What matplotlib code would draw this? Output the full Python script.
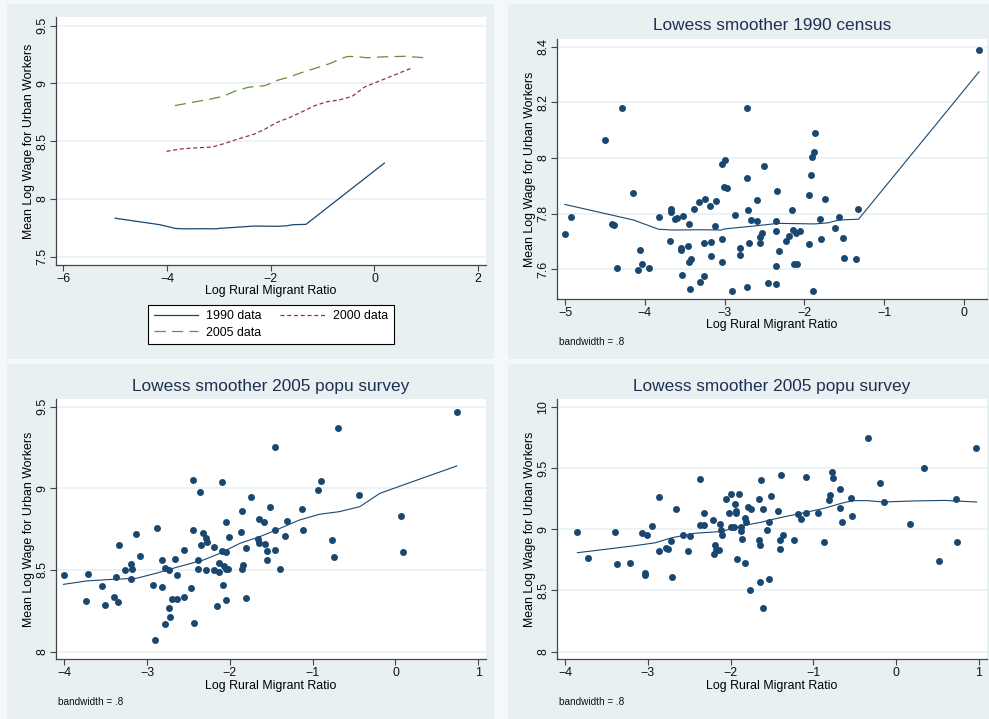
import matplotlib
matplotlib.use("Agg")
import matplotlib.pyplot as plt
from matplotlib.patches import Rectangle
from matplotlib.ticker import FuncFormatter

plt.rcParams['font.family'] = ['Liberation Sans', 'DejaVu Sans']

W, H = 989, 719

# 1990 census scatter
x90 = [-5.00, -4.93, -4.50, -4.28, -4.41, -4.38, -4.35, -4.15, -4.09, -4.06,
       -4.04, -3.95, -3.82, -3.68, -3.67, -3.67, -3.62, -3.60, -3.55, -3.54,
       -3.53, -3.52, -3.46, -3.45, -3.44, -3.42, -3.43, -3.38, -3.32, -3.31,
       -3.26, -3.26, -3.25, -3.18, -3.17, -3.17, -3.12, -3.11, -3.03, -2.99,
       -3.01, -2.97, -3.03, -3.03, -2.91, -2.87, -2.80, -2.80, -2.72, -2.72,
       -2.71, -2.69, -2.72, -2.67, -2.59, -2.59, -2.51, -2.56, -2.55, -2.53,
       -2.45, -2.36, -2.36, -2.36, -2.35, -2.34, -2.32, -2.23, -2.19, -2.16,
       -2.14, -2.13, -2.10, -2.09, -2.06, -1.94, -1.94, -1.91, -1.90, -1.88,
       -1.86, -1.89, -1.80, -1.79, -1.74, -1.62, -1.56, -1.51, -1.50, -1.35,
       -1.33, 0.19]
y90 = [7.725, 7.788, 8.063, 8.180, 7.763, 7.760, 7.605, 7.874, 7.598, 7.668,
       7.620, 7.604, 7.788, 7.702, 7.816, 7.806, 7.782, 7.784, 7.677, 7.671,
       7.580, 7.790, 7.683, 7.762, 7.625, 7.636, 7.528, 7.816, 7.843, 7.555,
       7.576, 7.695, 7.854, 7.826, 7.698, 7.648, 7.756, 7.844, 7.980, 7.994,
       7.896, 7.891, 7.710, 7.625, 7.521, 7.796, 7.678, 7.651, 8.180, 7.928,
       7.812, 7.693, 7.537, 7.777, 7.848, 7.775, 7.970, 7.695, 7.717, 7.729,
       7.552, 7.547, 7.774, 7.737, 7.613, 7.883, 7.665, 7.701, 7.721, 7.812,
       7.740, 7.619, 7.732, 7.619, 7.737, 7.690, 7.867, 7.938, 8.004, 8.020,
       8.089, 7.520, 7.781, 7.710, 7.851, 7.747, 7.787, 7.713, 7.642, 7.638,
       7.818, 8.388]

# 2000 scatter (panel titled 2005 popu survey, bottom left)
x00 = [-4.00, -3.74, -3.71, -3.55, -3.51, -3.40, -3.38, -3.35, -3.34, -3.27,
       -3.20, -3.20, -3.18, -3.13, -3.09, -2.93, -2.88, -2.90, -2.82, -2.82,
       -2.78, -2.78, -2.74, -2.74, -2.72, -2.70, -2.66, -2.64, -2.64, -2.56,
       -2.56, -2.47, -2.45, -2.45, -2.43, -2.39, -2.38, -2.36, -2.35, -2.32,
       -2.29, -2.29, -2.28, -2.19, -2.19, -2.15, -2.13, -2.13, -2.10, -2.10,
       -2.08, -2.07, -2.05, -2.05, -2.05, -2.05, -2.02, -2.01, -1.87, -1.85,
       -1.85, -1.84, -1.80, -1.80, -1.74, -1.66, -1.65, -1.65, -1.59, -1.58,
       -1.55, -1.55, -1.51, -1.46, -1.46, -1.46, -1.39, -1.33, -1.31, -1.13,
       -1.12, -0.93, -0.90, -0.77, -0.74, -0.70, -0.44, 0.07, 0.09, 0.74]
y00 = [8.471, 8.310, 8.476, 8.400, 8.288, 8.333, 8.457, 8.302, 8.653, 8.498,
       8.539, 8.445, 8.508, 8.718, 8.588, 8.410, 8.757, 8.069, 8.563, 8.394,
       8.510, 8.167, 8.498, 8.267, 8.210, 8.324, 8.569, 8.320, 8.467, 8.333,
       8.622, 8.392, 8.745, 9.051, 8.173, 8.563, 8.504, 8.980, 8.651, 8.724,
       8.698, 8.500, 8.671, 8.643, 8.498, 8.280, 8.490, 8.541, 9.037, 8.618,
       8.408, 8.527, 8.794, 8.316, 8.610, 8.504, 8.504, 8.704, 8.733, 8.859,
       8.506, 8.531, 8.635, 8.331, 8.947, 8.690, 8.812, 8.663, 8.794, 8.659,
       8.616, 8.561, 8.888, 9.251, 8.745, 8.622, 8.504, 8.706, 8.800, 8.876,
       8.745, 8.992, 9.043, 8.686, 8.578, 9.369, 8.957, 8.833, 8.612, 9.465]

# 2005 scatter
x05 = [-3.85, -3.72, -3.40, -3.37, -3.22, -3.07, -3.04, -3.04, -3.01, -2.95,
       -2.87, -2.87, -2.78, -2.76, -2.72, -2.71, -2.66, -2.57, -2.51, -2.49,
       -2.37, -2.37, -2.32, -2.32, -2.21, -2.20, -2.19, -2.18, -2.14, -2.13,
       -2.11, -2.10, -2.05, -2.02, -2.00, -1.99, -1.96, -1.95, -1.94, -1.93,
       -1.92, -1.90, -1.88, -1.87, -1.86, -1.83, -1.83, -1.81, -1.79, -1.75,
       -1.76, -1.66, -1.66, -1.65, -1.64, -1.63, -1.61, -1.61, -1.56, -1.54,
       -1.54, -1.51, -1.43, -1.40, -1.40, -1.39, -1.37, -1.24, -1.18, -1.15,
       -1.09, -1.09, -0.95, -0.87, -0.81, -0.80, -0.77, -0.76, -0.68, -0.68,
       -0.65, -0.55, -0.53, -0.34, -0.19, -0.15, 0.17, 0.33, 0.52, 0.72,
       0.74, 0.96]
y05 = [8.980, 8.762, 8.974, 8.716, 8.721, 8.966, 8.639, 8.623, 8.952, 9.029,
       9.263, 8.824, 8.849, 8.841, 8.903, 8.607, 9.165, 8.955, 8.819, 8.944,
       9.412, 9.037, 9.037, 9.135, 9.075, 8.795, 8.868, 8.830, 8.827, 9.045,
       8.996, 8.952, 9.246, 9.132, 9.015, 9.290, 9.015, 9.205, 9.135, 9.148,
       8.759, 9.290, 8.985, 9.015, 8.920, 8.727, 9.091, 9.056, 9.184, 9.165,
       8.506, 9.249, 8.914, 8.571, 8.868, 9.404, 9.162, 8.356, 8.996, 9.059,
       8.590, 9.273, 9.151, 8.909, 8.841, 9.445, 8.955, 8.909, 9.121, 9.083,
       9.132, 9.423, 9.135, 8.895, 9.235, 9.276, 9.469, 9.415, 9.325, 9.173,
       9.059, 9.257, 9.110, 9.741, 9.374, 9.224, 9.042, 9.497, 8.737, 9.246,
       8.892, 9.660]

# lowess curves
lx90 = [-5.00, -4.14, -3.83, -3.66, -3.29, -3.04, -3.00, -2.58, -2.33, -1.87, -1.70, -1.57, -1.32, 0.19]
ly90 = [7.833, 7.777, 7.744, 7.741, 7.742, 7.741, 7.745, 7.757, 7.765, 7.763, 7.767, 7.777, 7.780, 8.310]
lx00 = [-4.01, -3.73, -3.41, -3.13, -2.89, -2.64, -2.32, -2.12, -1.88, -1.64, -1.44, -1.16,
        -0.92, -0.68, -0.43, -0.19, 0.09, 0.74]
ly00 = [8.412, 8.433, 8.443, 8.449, 8.480, 8.517, 8.561, 8.602, 8.663, 8.704, 8.745, 8.806,
        8.841, 8.857, 8.888, 8.969, 9.020, 9.137]
lx05 = [-3.85, -3.52, -3.16, -2.91, -2.71, -2.43, -2.11, -1.87, -1.63, -1.43, -1.14, -0.86,
        -0.66, -0.52, -0.34, -0.16, 0.18, 0.59, 0.97]
ly05 = [8.808, 8.835, 8.865, 8.889, 8.930, 8.967, 8.981, 9.027, 9.057, 9.090, 9.131, 9.172,
        9.212, 9.233, 9.233, 9.222, 9.230, 9.235, 9.222]

NAVY = '#1A476F'
MAROON = '#90353B'
GREEN = '#6A8D3E'
PANEL = '#E8F0F2'
FS = 8.9
MS = 5.0

fig = plt.figure(figsize=(W / 100, H / 100), dpi=100, facecolor='#F4F8F9')

# panel backgrounds (pixel boxes), kept behind the axes
for (l, t, r, b) in [(7, 4, 494, 359), (508, 4, 989, 359), (7, 364, 494, 719), (508, 364, 989, 719)]:
    fig.patches.append(Rectangle((l / W, 1 - b / H), (r - l) / W, (b - t) / H,
                                 transform=fig.transFigure, facecolor=PANEL, edgecolor='none', zorder=-5))


def make_ax(l, t, r, b):
    ax = fig.add_axes([l / W, 1 - b / H, (r - l) / W, (b - t) / H])
    ax.set_zorder(2)
    ax.set_facecolor('white')
    for s in ['top', 'right']:
        ax.spines[s].set_visible(False)
    for s in ['left', 'bottom']:
        ax.spines[s].set_color('#444444')
        ax.spines[s].set_linewidth(0.9)
    ax.tick_params(length=4, width=0.8, color='#444444', labelsize=FS, pad=1.5, labelcolor='#111111')
    ax.yaxis.grid(True, color='#EAF2F3', linewidth=1.3)
    ax.set_axisbelow(True)
    fmt = FuncFormatter(lambda v, p: f"{v:g}".replace('-', '\u2212'))
    ax.xaxis.set_major_formatter(fmt)
    ax.yaxis.set_major_formatter(fmt)
    ax.set_xlabel('Log Rural Migrant Ratio', fontsize=FS)
    ax.set_ylabel('Mean Log Wage for Urban Workers', fontsize=FS)
    return ax


def finish(ax, xt, yt, xlim, ylim, xl_off, yl_off):
    ax.set_xticks(xt)
    ax.set_yticks(yt)
    ax.set_xlim(*xlim)
    ax.set_ylim(*ylim)
    ax.tick_params(axis='y', labelrotation=90)
    for lab in ax.get_yticklabels():
        lab.set_va('center')
    ax.xaxis.set_label_coords(0.5, xl_off)
    ax.xaxis.label.set_va('center')
    ax.yaxis.set_label_coords(yl_off, 0.5)
    ax.yaxis.label.set_va('center')


# panel 1: the three lowess curves
ax1 = make_ax(56, 17, 486, 265)
h90, = ax1.plot(lx90, ly90, color=NAVY, lw=0.9, label='1990 data')
h00, = ax1.plot(lx00, ly00, color=MAROON, lw=0.9, dashes=(3.2, 2.2), label='2000 data')
h05, = ax1.plot(lx05, ly05, color=GREEN, lw=0.9, dashes=(9, 5), label='2005 data')
finish(ax1, [-6, -4, -2, 0, 2], [7.5, 8, 8.5, 9, 9.5], (-6.14, 2.15), (7.428, 9.575), -0.105, -0.062)
# column-major fill: order so rows read 1990 | 2000, then 2005
leg = fig.legend([h90, h05, h00], ['1990 data', '2005 data', '2000 data'],
                 loc='center', bbox_to_anchor=(271 / W, 1 - 324.5 / H), ncol=2, fontsize=FS,
                 frameon=True, fancybox=False, edgecolor='black', framealpha=1,
                 handlelength=3.6, handletextpad=0.65, columnspacing=1.5,
                 labelspacing=0.35, borderpad=0.45)
leg.get_frame().set_linewidth(0.8)
leg.set_zorder(5)

# panel 2: 1990 census
ax2 = make_ax(557, 39, 987, 299)
ax2.plot(x90, y90, 'o', color=NAVY, markersize=MS, markeredgewidth=0)
ax2.plot(lx90, ly90, color=NAVY, lw=0.8)
finish(ax2, [-5, -4, -3, -2, -1, 0], [7.6, 7.8, 8.0, 8.2, 8.4], (-5.10, 0.29), (7.493, 8.428), -0.1, -0.062)

# panel 3
ax3 = make_ax(56, 399, 486, 659)
ax3.plot(x00, y00, 'o', color=NAVY, markersize=MS, markeredgewidth=0)
ax3.plot(lx00, ly00, color=NAVY, lw=0.8)
finish(ax3, [-4, -3, -2, -1, 0, 1], [8, 8.5, 9, 9.5], (-4.10, 1.093), (7.955, 9.547), -0.103, -0.062)

# panel 4
ax4 = make_ax(557, 399, 987, 659)
ax4.plot(x05, y05, 'o', color=NAVY, markersize=MS, markeredgewidth=0)
ax4.plot(lx05, ly05, color=NAVY, lw=0.8)
finish(ax4, [-4, -3, -2, -1, 0, 1], [8, 8.5, 9, 9.5, 10], (-4.097, 1.097), (7.94, 10.063), -0.103, -0.062)

TITLE_C = '#1F2F52'
fig.text(772 / W, 1 - 26 / H, 'Lowess smoother 1990 census', ha='center', va='center', fontsize=12.4, color=TITLE_C)
fig.text(271 / W, 1 - 386 / H, 'Lowess smoother 2005 popu survey', ha='center', va='center', fontsize=12.4, color=TITLE_C)
fig.text(772 / W, 1 - 386 / H, 'Lowess smoother 2005 popu survey', ha='center', va='center', fontsize=12.4, color=TITLE_C)

for (px, py) in [(559, 342), (58, 702), (559, 702)]:
    fig.text(px / W, 1 - py / H, 'bandwidth = .8', ha='left', va='center', fontsize=7.2, color='#111111')

fig.savefig('out.png', dpi=100, facecolor=fig.get_facecolor())
